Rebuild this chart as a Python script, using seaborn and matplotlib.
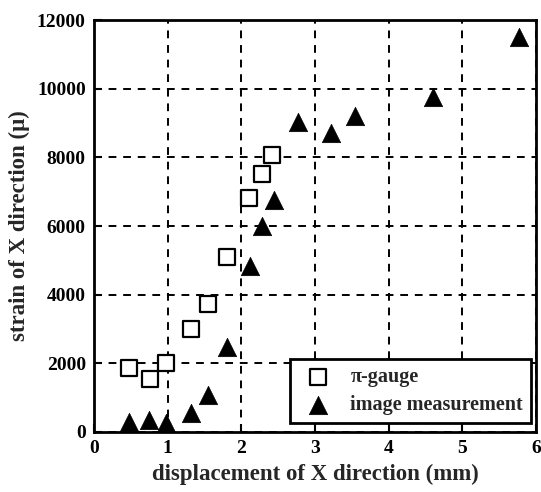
import matplotlib
matplotlib.use("Agg")
import matplotlib.pyplot as plt
import seaborn as sns
import pandas as pd

gauge_x = [0.48, 0.76, 0.98, 1.31, 1.54, 1.80, 2.10, 2.28, 2.42]
gauge_y = [1865, 1546, 2000, 2995, 3739, 5092, 6821, 7527, 8068]
img_x = [0.47, 0.75, 0.98, 1.31, 1.54, 1.80, 2.11, 2.28, 2.44, 2.77, 3.21, 3.54, 4.60, 5.77]
img_y = [290, 338, 270, 551, 1082, 2483, 4831, 6010, 6763, 9024, 8725, 9198, 9758, 11517]
x_ticks = [0, 1, 2, 3, 4, 5, 6]
y_ticks = [0, 2000, 4000, 6000, 8000, 10000, 12000]

sns.set_theme(style="white")
plt.rcParams['font.family'] = ['Liberation Serif', 'DejaVu Serif']
plt.rcParams['font.weight'] = 'bold'

fig = plt.figure(figsize=(5.41, 4.92), dpi=100)
ax = fig.add_axes([0.174, 0.122, 0.817, 0.837])

dg = pd.DataFrame({"x": gauge_x, "y": gauge_y})
di = pd.DataFrame({"x": img_x, "y": img_y})

sns.scatterplot(data=dg, x="x", y="y", ax=ax, marker="s", s=145,
                color="white", edgecolor="black", linewidth=1.6,
                label="π-gauge", zorder=3)
sns.scatterplot(data=di, x="x", y="y", ax=ax, marker="^", s=175,
                color="black", edgecolor="black", linewidth=0.5,
                label="image measurement", zorder=3)

ax.set_xlim(0, 6)
ax.set_ylim(0, 12000)
ax.set_xticks(x_ticks)
ax.set_yticks(y_ticks)
ax.tick_params(direction="in", length=6, width=1.5, colors="black",
               labelsize=14, bottom=True, left=True, pad=6)
for lab in ax.get_xticklabels() + ax.get_yticklabels():
    lab.set_fontweight("bold")
ax.grid(True, color="black", linestyle=(0, (4, 3.5)), linewidth=1.4, zorder=1)
ax.set_axisbelow(True)
for sp in ax.spines.values():
    sp.set_color("black")
    sp.set_linewidth(2)

ax.set_xlabel("displacement of X direction (mm)", fontsize=16.5, fontweight="bold", labelpad=5)
ax.set_ylabel("strain of X direction (μ)", fontsize=16.5, fontweight="bold", labelpad=5)

leg = ax.legend(loc="lower right", bbox_to_anchor=(0.989, 0.022), borderaxespad=0,
                frameon=True, fancybox=False, framealpha=1, edgecolor="black",
                borderpad=0.4, labelspacing=0.4, handletextpad=0.6,
                prop={"family": ["Liberation Serif"], "weight": "bold", "size": 14.5})
leg.get_frame().set_linewidth(2)

fig.savefig("out.png", dpi=100)
